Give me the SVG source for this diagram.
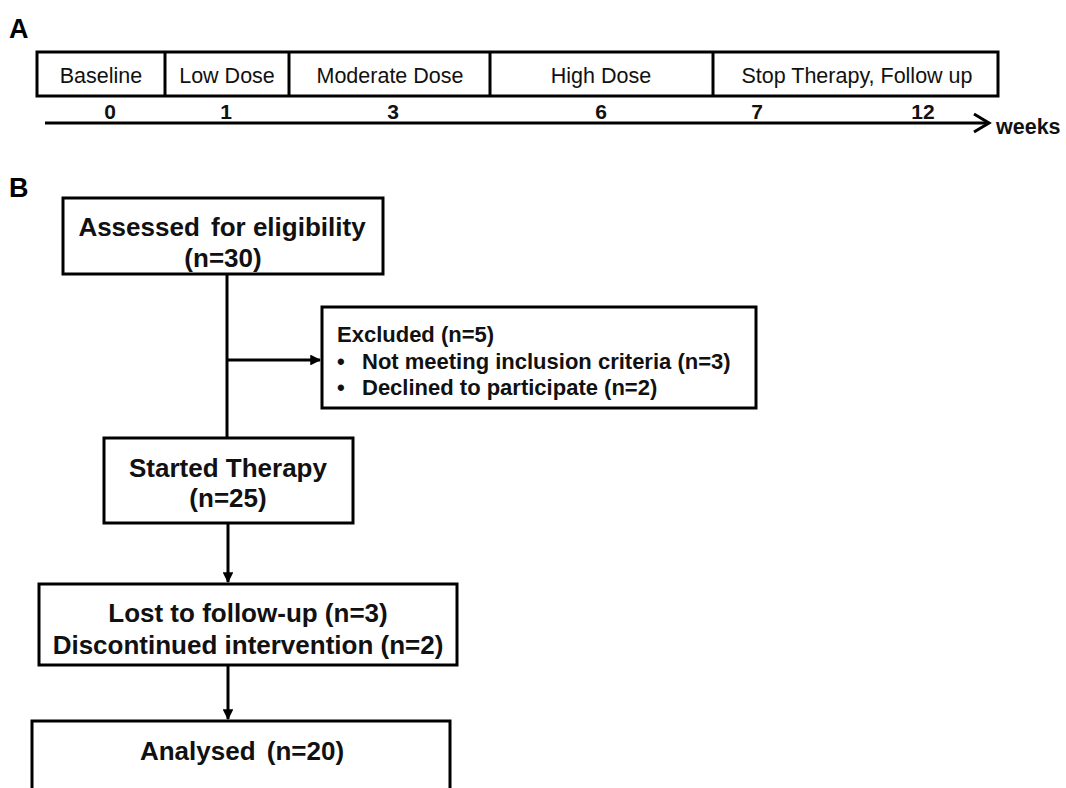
<svg xmlns="http://www.w3.org/2000/svg" width="1066" height="788" viewBox="0 0 1066 788">
<defs>
<style>
.box{fill:#fff;stroke:#000;stroke-width:3}
.tl{font-family:"Liberation Sans",Arial,sans-serif;font-size:21.5px;fill:#111;text-anchor:middle}
.tick{font-family:"Liberation Sans",Arial,sans-serif;font-size:21px;font-weight:bold;fill:#111;text-anchor:middle}
.b{font-family:"Liberation Sans",Arial,sans-serif;font-weight:bold;fill:#111}
.big{font-size:26px;text-anchor:middle}
.mid{font-size:22px}
.pl{font-family:"Liberation Sans",Arial,sans-serif;font-weight:bold;font-size:27px;fill:#000}
.ln{stroke:#000;stroke-width:3;fill:none}
</style>
<marker id="ah" viewBox="0 0 10 10" refX="9" refY="5" markerWidth="3.6" markerHeight="3.6" orient="auto" markerUnits="strokeWidth">
<path d="M0,0 L10,5 L0,10 z" fill="#000"/>
</marker>
</defs>
<rect width="1066" height="788" fill="#fff"/>
<text class="pl" x="9" y="38">A</text>
<text class="pl" x="9" y="197">B</text>
<g id="timeline">
<rect class="box" x="37" y="52" width="961" height="44"/>
<line class="ln" x1="165" y1="52" x2="165" y2="96"/>
<line class="ln" x1="289" y1="52" x2="289" y2="96"/>
<line class="ln" x1="490" y1="52" x2="490" y2="96"/>
<line class="ln" x1="713" y1="52" x2="713" y2="96"/>
<text class="tl" x="101" y="83">Baseline</text>
<text class="tl" x="227" y="83">Low Dose</text>
<text class="tl" x="390" y="83">Moderate Dose</text>
<text class="tl" x="601" y="83">High Dose</text>
<text class="tl" x="857" y="83">Stop Therapy, Follow up</text>
</g>
<g id="axis">
<line class="ln" x1="45" y1="123" x2="988" y2="123"/>
<path d="M974,114 L989,123 L974,132" class="ln" stroke-width="4.5"/>
<text class="tick" x="110" y="119">0</text>
<text class="tick" x="226" y="119">1</text>
<text class="tick" x="393" y="119">3</text>
<text class="tick" x="601" y="119">6</text>
<text class="tick" x="757" y="119">7</text>
<text class="tick" x="923" y="119">12</text>
<text class="b" x="996" y="134" font-size="21.5">weeks</text>
</g>
<g id="connectors">
<line class="ln" x1="227" y1="274" x2="227" y2="438"/>
<line class="ln" x1="227" y1="360" x2="320" y2="360" marker-end="url(#ah)"/>
<line class="ln" x1="228" y1="523" x2="228" y2="582" marker-end="url(#ah)"/>
<line class="ln" x1="228" y1="665" x2="228" y2="719" marker-end="url(#ah)"/>
</g>
<g id="assessed">
<rect class="box" x="63" y="198" width="320" height="76"/>
<text class="b big" x="222" y="236">Assessed <tspan dx="4">for eligibility</tspan></text>
<text class="b big" x="223" y="267">(n=30)</text>
</g>
<g id="excluded">
<rect class="box" x="322" y="307" width="434" height="101"/>
<text class="b mid" x="337" y="342">Excluded (n=5)</text>
<text class="b mid" x="337" y="369">•</text>
<text class="b mid" x="362" y="369">Not meeting inclusion criteria (n=3)</text>
<text class="b mid" x="337" y="395">•</text>
<text class="b mid" x="362" y="395">Declined to participate (n=2)</text>
</g>
<g id="started">
<rect class="box" x="104" y="438" width="249" height="85"/>
<text class="b big" x="228" y="477">Started Therapy</text>
<text class="b big" x="228" y="507">(n=25)</text>
</g>
<g id="lost">
<rect class="box" x="39" y="584" width="418" height="81"/>
<text class="b big" x="248" y="622">Lost to follow-up (n=3)</text>
<text class="b big" x="248" y="654">Discontinued intervention (n=2)</text>
</g>
<g id="analysed">
<rect class="box" x="32" y="721" width="418" height="80"/>
<text class="b big" x="242" y="760">Analysed <tspan dx="4">(n=20)</tspan></text>
</g>
</svg>
